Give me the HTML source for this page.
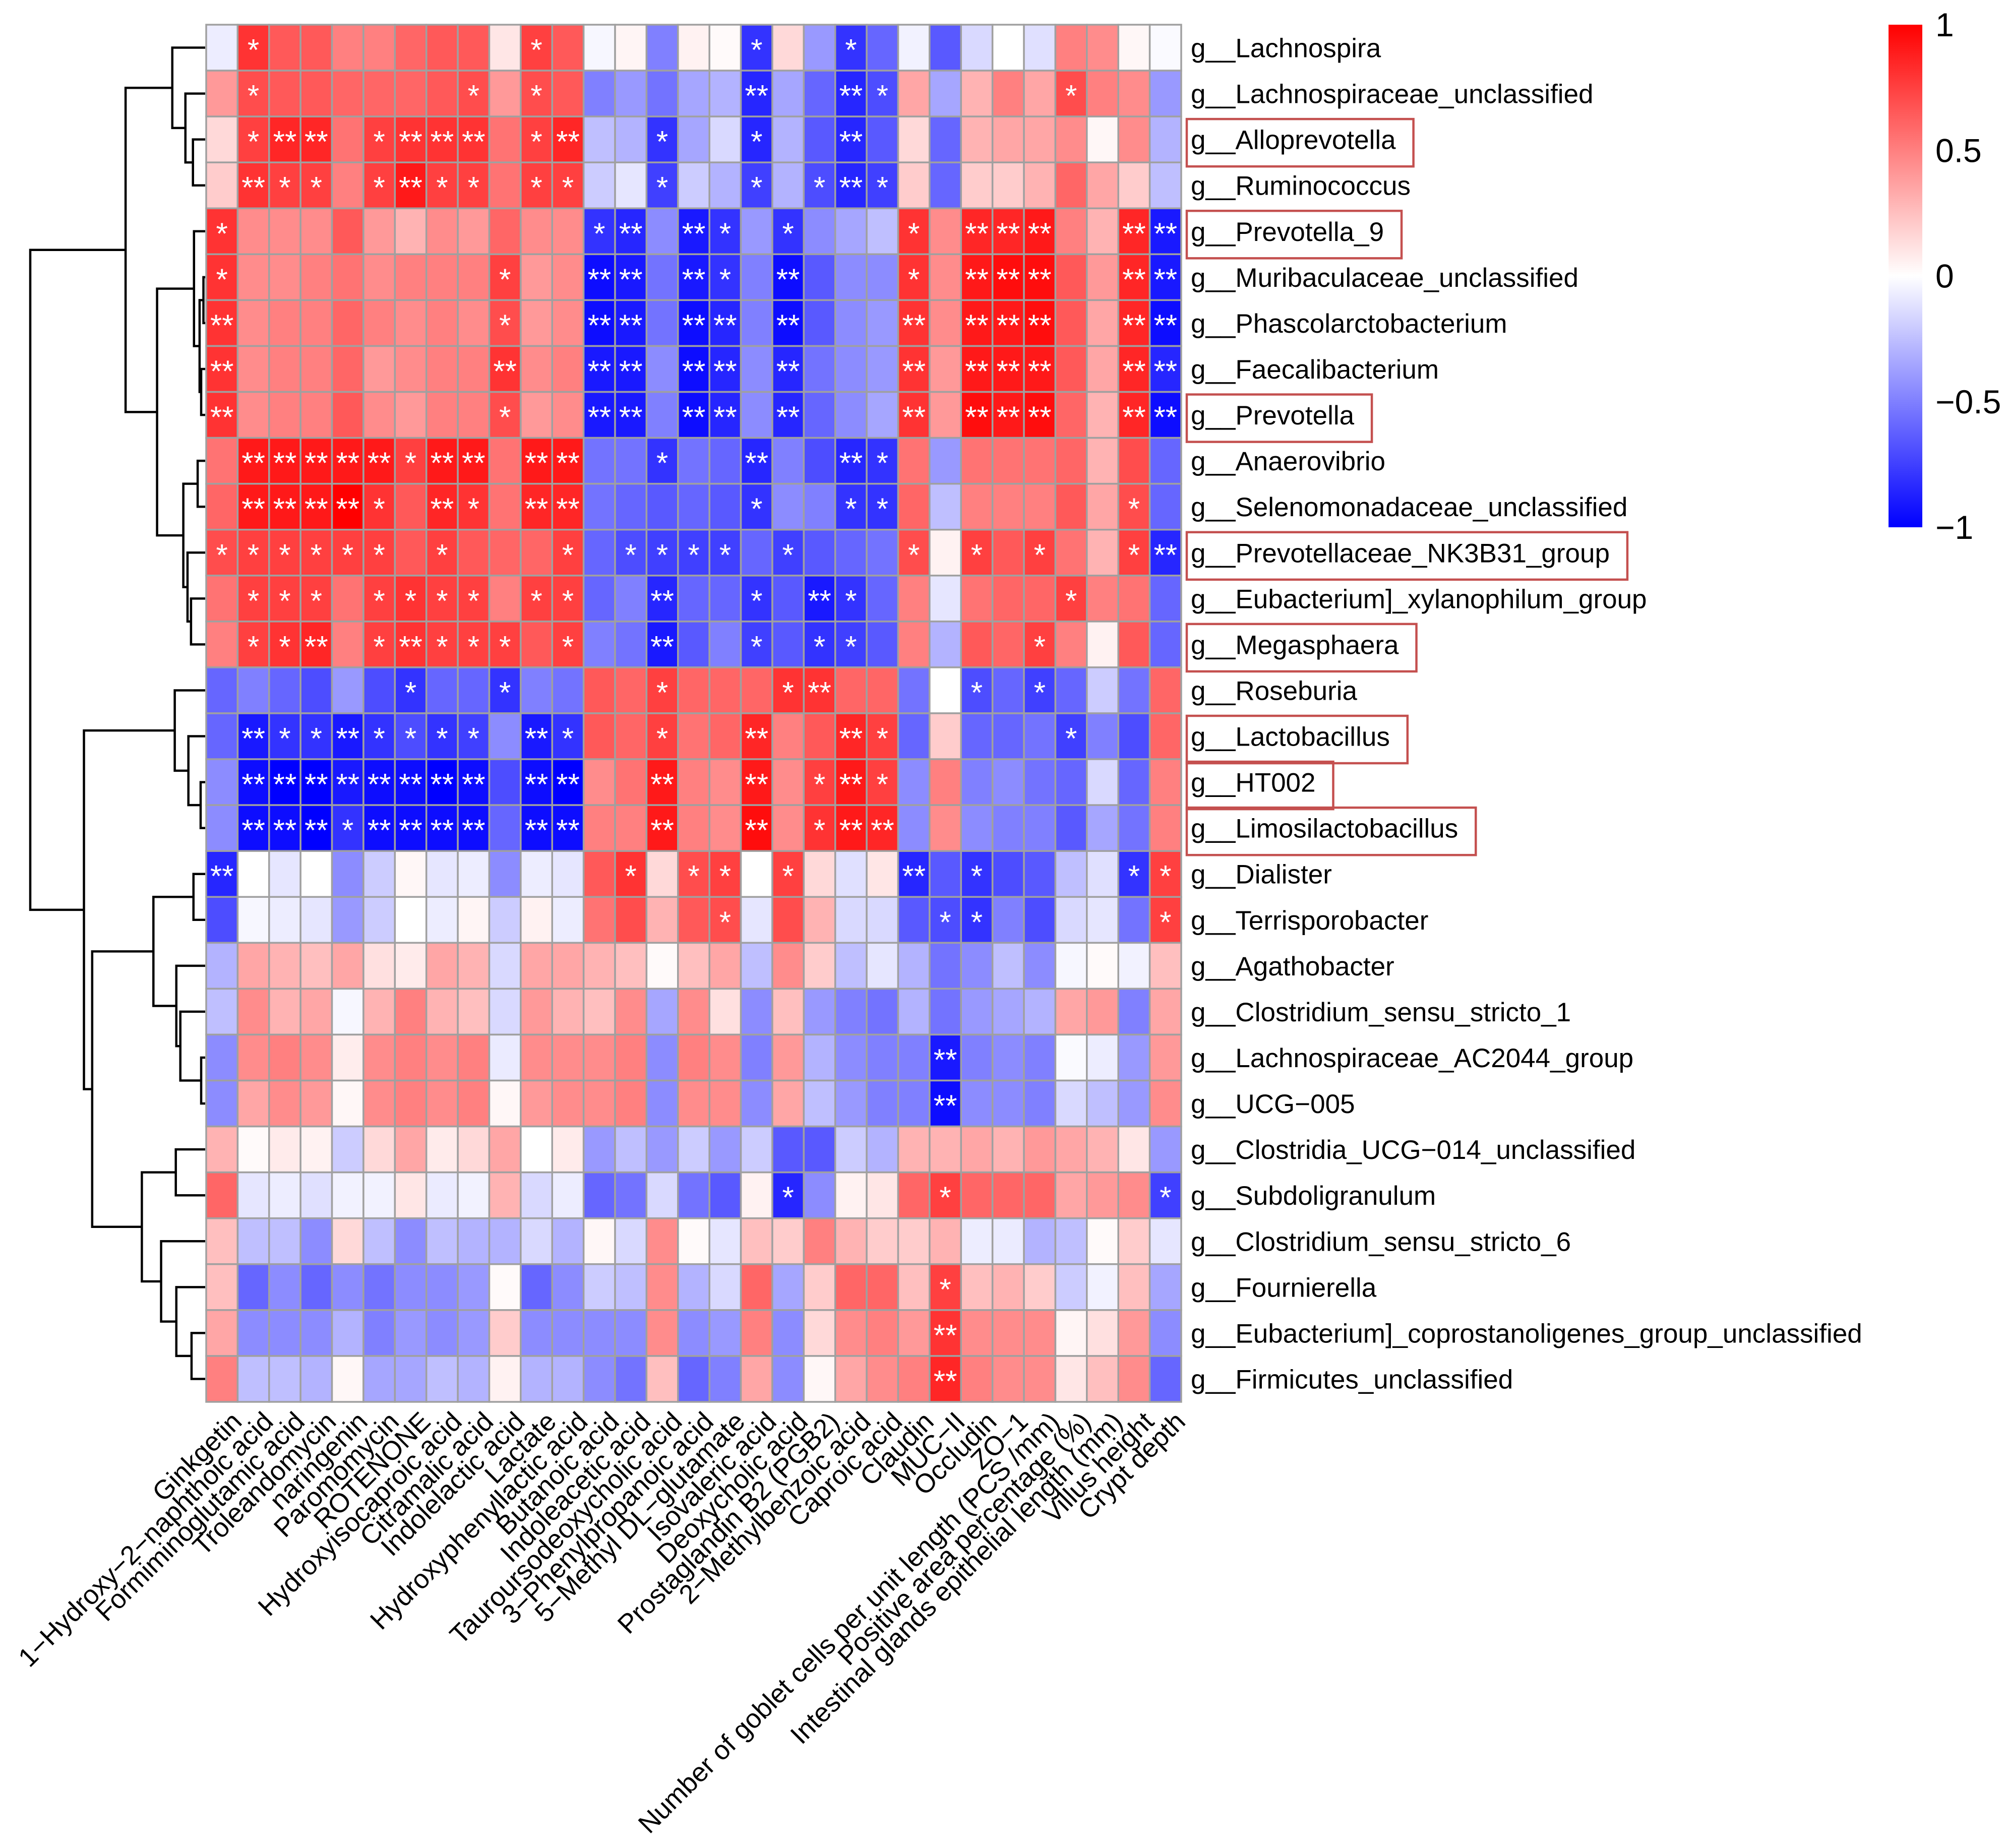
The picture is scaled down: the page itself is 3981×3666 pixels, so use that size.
<!DOCTYPE html>
<html><head><meta charset="utf-8"><style>
html,body{margin:0;padding:0;background:#fff;}
svg{display:block;font-family:"Liberation Sans",Arial,sans-serif;}
</style></head><body>
<svg id="chart" xmlns="http://www.w3.org/2000/svg" width="3981" height="3666" viewBox="0 0 3981 3666">
<rect x="0" y="0" width="3981" height="3666" fill="#fff"/>
<g id="dendro"></g>
<g id="cells"></g>
<g id="stars"></g>
<g id="rowlabels"></g>
<g id="collabels"></g>
<g id="legend"></g>
</svg>
<script>
const rowNames = ["g__Lachnospira","g__Lachnospiraceae_unclassified","g__Alloprevotella","g__Ruminococcus","g__Prevotella_9","g__Muribaculaceae_unclassified","g__Phascolarctobacterium","g__Faecalibacterium","g__Prevotella","g__Anaerovibrio","g__Selenomonadaceae_unclassified","g__Prevotellaceae_NK3B31_group","g__Eubacterium]_xylanophilum_group","g__Megasphaera","g__Roseburia","g__Lactobacillus","g__HT002","g__Limosilactobacillus","g__Dialister","g__Terrisporobacter","g__Agathobacter","g__Clostridium_sensu_stricto_1","g__Lachnospiraceae_AC2044_group","g__UCG\u2212005","g__Clostridia_UCG\u2212014_unclassified","g__Subdoligranulum","g__Clostridium_sensu_stricto_6","g__Fournierella","g__Eubacterium]_coprostanoligenes_group_unclassified","g__Firmicutes_unclassified"];
const colNames = ["Ginkgetin","1\u2212Hydroxy\u22122\u2212naphthoic acid","Formiminoglutamic acid","Troleandomycin","naringenin","Paromomycin","ROTENONE","Hydroxyisocaproic acid","Citramalic acid","Indolelactic acid","Lactate","Hydroxyphenyllactic acid","Butanoic acid","Indoleacetic acid","Tauroursodeoxycholic acid","3\u2212Phenylpropanoic acid","5\u2212Methyl DL\u2212glutamate","Isovaleric acid","Deoxycholic acid","Prostaglandin B2 (PGB2)","2\u2212Methylbenzoic acid","Caproic acid","Claudin","MUC\u2212II","Occludin","ZO\u22121","Number of goblet cells per unit length (PCS /mm)","Positive area percentage (%)","Intestinal glands epithelial length (mm)","Villus height","Crypt depth"];
const boxedRows = [2,4,8,11,13,15,16,17];
const values = [
[-0.07,0.8,0.65,0.65,0.5,0.5,0.6,0.65,0.65,0.1,0.75,0.65,-0.03,0.04,-0.5,0.05,0.02,-0.8,0.15,-0.4,-0.8,-0.6,-0.05,-0.65,-0.15,0,-0.12,0.5,0.45,0.03,-0.02],
[0.4,0.7,0.65,0.65,0.6,0.6,0.6,0.65,0.7,0.4,0.7,0.65,-0.5,-0.4,-0.55,-0.35,-0.3,-0.85,-0.35,-0.6,-0.85,-0.7,0.35,-0.35,0.3,0.5,0.35,0.7,0.5,0.45,-0.4],
[0.15,0.75,0.85,0.85,0.55,0.75,0.8,0.8,0.8,0.55,0.75,0.85,-0.25,-0.3,-0.8,-0.35,-0.15,-0.85,-0.3,-0.65,-0.85,-0.65,0.15,-0.6,0.3,0.35,0.35,0.45,0.03,0.45,-0.3],
[0.2,0.8,0.75,0.75,0.5,0.75,0.9,0.75,0.75,0.55,0.75,0.75,-0.2,-0.1,-0.75,-0.2,-0.3,-0.75,-0.3,-0.7,-0.85,-0.75,0.2,-0.6,0.2,0.2,0.3,0.6,0.35,0.2,-0.25],
[0.8,0.45,0.45,0.45,0.65,0.4,0.3,0.45,0.4,0.6,0.45,0.45,-0.8,-0.85,-0.45,-0.9,-0.8,-0.4,-0.8,-0.45,-0.35,-0.25,0.8,0.45,0.85,0.85,0.9,0.5,0.3,0.85,-0.9],
[0.8,0.45,0.45,0.5,0.55,0.45,0.5,0.5,0.5,0.75,0.4,0.45,-0.95,-0.9,-0.55,-0.9,-0.8,-0.5,-0.95,-0.65,-0.45,-0.45,0.8,0.45,0.9,0.95,0.95,0.65,0.4,0.85,-0.9],
[0.8,0.45,0.5,0.5,0.6,0.5,0.45,0.5,0.45,0.7,0.4,0.45,-0.95,-0.9,-0.55,-0.95,-0.85,-0.5,-0.95,-0.65,-0.45,-0.4,0.8,0.45,0.9,0.9,0.95,0.65,0.35,0.85,-0.95],
[0.8,0.45,0.5,0.5,0.6,0.4,0.45,0.5,0.5,0.8,0.45,0.5,-0.9,-0.9,-0.45,-0.95,-0.85,-0.45,-0.85,-0.55,-0.45,-0.4,0.8,0.4,0.9,0.9,0.9,0.65,0.35,0.85,-0.85],
[0.8,0.45,0.5,0.5,0.65,0.45,0.4,0.5,0.5,0.7,0.4,0.45,-0.9,-0.9,-0.5,-0.95,-0.85,-0.45,-0.85,-0.6,-0.45,-0.35,0.8,0.4,0.95,0.9,0.95,0.6,0.3,0.85,-0.95],
[0.55,0.9,0.9,0.9,0.9,0.9,0.75,0.9,0.9,0.55,0.9,0.9,-0.55,-0.55,-0.8,-0.55,-0.6,-0.85,-0.5,-0.7,-0.85,-0.8,0.55,-0.4,0.55,0.55,0.55,0.6,0.3,0.7,-0.6],
[0.6,0.9,0.9,0.9,1.0,0.8,0.65,0.85,0.8,0.55,0.85,0.85,-0.55,-0.6,-0.65,-0.6,-0.65,-0.8,-0.45,-0.5,-0.8,-0.8,0.6,-0.25,0.5,0.5,0.5,0.65,0.35,0.7,-0.6],
[0.7,0.75,0.75,0.75,0.75,0.75,0.65,0.75,0.65,0.6,0.6,0.75,-0.6,-0.7,-0.75,-0.75,-0.75,-0.6,-0.75,-0.65,-0.6,-0.55,0.7,0.05,0.75,0.65,0.75,0.55,0.3,0.75,-0.85],
[0.55,0.75,0.75,0.75,0.55,0.75,0.8,0.75,0.75,0.5,0.75,0.75,-0.6,-0.5,-0.85,-0.6,-0.6,-0.8,-0.65,-0.9,-0.8,-0.6,0.5,-0.1,0.55,0.6,0.6,0.75,0.5,0.55,-0.6],
[0.5,0.75,0.8,0.85,0.5,0.75,0.8,0.75,0.75,0.75,0.65,0.75,-0.5,-0.55,-0.9,-0.65,-0.5,-0.75,-0.65,-0.8,-0.75,-0.65,0.5,-0.3,0.65,0.6,0.75,0.5,0.05,0.65,-0.6],
[-0.6,-0.5,-0.6,-0.7,-0.4,-0.7,-0.8,-0.6,-0.6,-0.8,-0.5,-0.55,0.65,0.6,0.75,0.6,0.6,0.6,0.8,0.8,0.6,0.6,-0.55,0,-0.7,-0.6,-0.75,-0.6,-0.2,-0.55,0.6],
[-0.6,-0.9,-0.8,-0.8,-0.9,-0.8,-0.7,-0.8,-0.75,-0.45,-0.9,-0.8,0.65,0.6,0.75,0.55,0.6,0.85,0.5,0.65,0.85,0.75,-0.6,0.2,-0.6,-0.6,-0.55,-0.75,-0.5,-0.7,0.6],
[-0.45,-0.95,-1,-1,-0.9,-0.95,-0.95,-1,-0.95,-0.7,-0.95,-1,0.45,0.55,0.9,0.5,0.45,0.9,0.45,0.75,0.9,0.75,-0.45,0.5,-0.5,-0.45,-0.55,-0.6,-0.15,-0.6,0.5],
[-0.45,-0.95,-0.95,-1,-0.8,-0.95,-0.95,-0.95,-0.95,-0.6,-0.95,-0.95,0.5,0.5,0.9,0.5,0.45,0.95,0.45,0.8,0.9,0.85,-0.45,0.45,-0.45,-0.5,-0.5,-0.65,-0.35,-0.55,0.5],
[-0.85,0,-0.1,0,-0.45,-0.2,0.03,-0.1,-0.07,-0.45,-0.07,-0.1,0.65,0.8,0.15,0.7,0.75,0,0.75,0.15,-0.12,0.1,-0.85,-0.65,-0.8,-0.7,-0.65,-0.25,-0.12,-0.8,0.75],
[-0.7,-0.03,-0.07,-0.1,-0.4,-0.2,0,-0.07,0.04,-0.2,0.05,-0.07,0.55,0.7,0.3,0.65,0.7,-0.1,0.7,0.3,-0.15,-0.15,-0.65,-0.7,-0.8,-0.5,-0.7,-0.15,-0.1,-0.55,0.75],
[-0.3,0.35,0.3,0.25,0.35,0.12,0.08,0.35,0.3,-0.15,0.35,0.35,0.3,0.25,0.02,0.25,0.35,-0.25,0.45,0.2,-0.25,-0.1,-0.3,-0.55,-0.45,-0.25,-0.45,-0.03,0.02,-0.05,0.25],
[-0.25,0.45,0.3,0.35,-0.03,0.3,0.5,0.3,0.25,-0.15,0.4,0.3,0.25,0.45,-0.35,0.45,0.12,-0.45,0.25,-0.4,-0.5,-0.55,-0.3,-0.55,-0.4,-0.35,-0.3,0.35,0.4,-0.5,0.35],
[-0.45,0.45,0.5,0.45,0.07,0.45,0.5,0.45,0.5,-0.08,0.45,0.45,0.45,0.5,-0.45,0.5,0.45,-0.5,0.4,-0.3,-0.45,-0.5,-0.5,-0.9,-0.5,-0.45,-0.5,-0.02,-0.07,-0.4,0.4],
[-0.45,0.35,0.45,0.4,0.03,0.45,0.5,0.45,0.5,0.03,0.4,0.45,0.45,0.5,-0.45,0.45,0.45,-0.45,0.35,-0.25,-0.4,-0.5,-0.5,-0.95,-0.45,-0.45,-0.5,-0.15,-0.25,-0.4,0.45],
[0.3,0.02,0.08,0.05,-0.2,0.15,0.35,0.08,0.15,0.35,0,0.08,-0.4,-0.25,-0.4,-0.2,-0.4,-0.2,-0.65,-0.65,-0.2,-0.3,0.3,0.3,0.35,0.3,0.4,0.35,0.3,0.1,-0.4],
[0.6,-0.1,-0.07,-0.12,-0.05,-0.05,0.1,-0.08,-0.05,0.3,-0.15,-0.07,-0.6,-0.55,-0.15,-0.55,-0.65,0.05,-0.85,-0.45,0.05,0.1,0.6,0.75,0.6,0.6,0.6,0.35,0.4,0.45,-0.75],
[0.25,-0.25,-0.25,-0.45,0.15,-0.25,-0.45,-0.25,-0.3,-0.3,-0.15,-0.3,0.03,-0.15,0.45,0.02,-0.1,0.25,0.2,0.5,0.3,0.2,0.2,0.3,-0.07,-0.08,-0.3,-0.25,0.02,0.2,-0.1],
[0.25,-0.6,-0.45,-0.6,-0.45,-0.55,-0.45,-0.45,-0.4,0.02,-0.6,-0.45,-0.2,-0.25,0.45,-0.3,-0.15,0.6,-0.35,0.2,0.6,0.6,0.25,0.75,0.25,0.3,0.2,-0.2,-0.05,0.25,-0.35],
[0.35,-0.45,-0.45,-0.45,-0.3,-0.5,-0.4,-0.45,-0.4,0.2,-0.45,-0.45,-0.45,-0.45,0.45,-0.45,-0.4,0.5,-0.45,0.15,0.45,0.5,0.4,0.8,0.45,0.45,0.45,0.04,0.12,0.4,-0.45],
[0.5,-0.25,-0.25,-0.3,0.03,-0.35,-0.35,-0.25,-0.3,0.05,-0.3,-0.3,-0.45,-0.55,0.25,-0.6,-0.5,0.35,-0.45,0.03,0.35,0.45,0.5,0.85,0.5,0.45,0.45,0.1,0.25,0.45,-0.6]
];
const sigMarks = [
"1:1 10:1 17:1 20:1",
"1:1 8:1 10:1 17:2 20:2 21:1 27:1",
"1:1 2:2 3:2 5:1 6:2 7:2 8:2 10:1 11:2 14:1 17:1 20:2",
"1:2 2:1 3:1 5:1 6:2 7:1 8:1 10:1 11:1 14:1 17:1 19:1 20:2 21:1",
"0:1 12:1 13:2 15:2 16:1 18:1 22:1 24:2 25:2 26:2 29:2 30:2",
"0:1 9:1 12:2 13:2 15:2 16:1 18:2 22:1 24:2 25:2 26:2 29:2 30:2",
"0:2 9:1 12:2 13:2 15:2 16:2 18:2 22:2 24:2 25:2 26:2 29:2 30:2",
"0:2 9:2 12:2 13:2 15:2 16:2 18:2 22:2 24:2 25:2 26:2 29:2 30:2",
"0:2 9:1 12:2 13:2 15:2 16:2 18:2 22:2 24:2 25:2 26:2 29:2 30:2",
"1:2 2:2 3:2 4:2 5:2 6:1 7:2 8:2 10:2 11:2 14:1 17:2 20:2 21:1",
"1:2 2:2 3:2 4:2 5:1 7:2 8:1 10:2 11:2 17:1 20:1 21:1 29:1",
"0:1 1:1 2:1 3:1 4:1 5:1 7:1 11:1 13:1 14:1 15:1 16:1 18:1 22:1 24:1 26:1 29:1 30:2",
"1:1 2:1 3:1 5:1 6:1 7:1 8:1 10:1 11:1 14:2 17:1 19:2 20:1 27:1",
"1:1 2:1 3:2 5:1 6:2 7:1 8:1 9:1 11:1 14:2 17:1 19:1 20:1 26:1",
"6:1 9:1 14:1 18:1 19:2 24:1 26:1",
"1:2 2:1 3:1 4:2 5:1 6:1 7:1 8:1 10:2 11:1 14:1 17:2 20:2 21:1 27:1",
"1:2 2:2 3:2 4:2 5:2 6:2 7:2 8:2 10:2 11:2 14:2 17:2 19:1 20:2 21:1",
"1:2 2:2 3:2 4:1 5:2 6:2 7:2 8:2 10:2 11:2 14:2 17:2 19:1 20:2 21:2",
"0:2 13:1 15:1 16:1 18:1 22:2 24:1 29:1 30:1",
"16:1 23:1 24:1 30:1",
"",
"",
"23:2",
"23:2",
"",
"18:1 23:1 30:1",
"",
"23:1",
"23:2",
"23:2"
];
// hclust-style merges: negative = leaf (row index+1), positive = earlier merge (1-based); third = height (root=1)
const mergeLeft  = [-3,-2,-1,-6,-8,4,-5,-13,-12,-10,10,7,3,-17,-16,-15,-19,-23,-22,-21,17,-29,-28,-27,-25,25,21,16,13];
const mergeRight = [-4,1,2,-7,-9,5,6,-14,8,-11,9,11,12,-18,14,15,-20,-24,18,19,20,-30,22,23,-26,24,26,27,28];
const mergeHeight= [0.07,0.113,0.188,0.01,0.023,0.032,0.064,0.081,0.101,0.043,0.125,0.275,0.455,0.026,0.096,0.174,0.067,0.023,0.142,0.165,0.296,0.078,0.165,0.252,0.168,0.362,0.646,0.693,1.0];
const legendTicks = [1,0.5,0,-0.5,-1];
const legendTickLabels = ["1","0.5","0","\u22120.5","\u22121"];

const NS="http://www.w3.org/2000/svg";
const X0=409, X1=2343, Y0=49, Y1=2781;
const nR=rowNames.length, nC=colNames.length;
const cw=(X1-X0)/nC, ch=(Y1-Y0)/nR;
const xCol=c=>X0+c*cw, yRow=r=>Y0+r*ch;
const DR=407, DL=60;
const xH=h=>DR-h*(DR-DL);
function color(v){
  v=Math.max(-1,Math.min(1,v));
  let r,g,b;
  if(v>=0){r=255;g=Math.round(255*(1-v));b=g;}else{b=255;r=Math.round(255*(1+v));g=r;}
  return `rgb(${r},${g},${b})`;
}
function mk(tag,attrs,parent){const e=document.createElementNS(NS,tag);for(const k in attrs)e.setAttribute(k,attrs[k]);parent.appendChild(e);return e;}

const gCells=document.getElementById('cells');
for(let r=0;r<nR;r++)for(let c=0;c<nC;c++){
  const e=mk('rect',{x:xCol(c),y:yRow(r),width:cw,height:ch,fill:color(values[r][c]),stroke:'#a0a0a0','stroke-width':3.5},gCells);
  
  
}
const gStars=document.getElementById('stars');
sigMarks.forEach((s,r)=>{
  if(!s)return;
  s.split(' ').forEach(p=>{
    const [c,n]=p.split(':').map(Number);
    const t=mk('text',{x:xCol(c)+cw/2,y:yRow(r)+ch/2+25,'text-anchor':'middle','font-size':60,fill:'#fff'},gStars);
    t.textContent='*'.repeat(n);
    
    
  });
});
const gRL=document.getElementById('rowlabels');
rowNames.forEach((n,r)=>{
  const t=mk('text',{x:2362,y:yRow(r)+ch/2+19,'font-size':53,fill:'#000'},gRL);
  t.textContent=n;
  
  
  if(boxedRows.includes(r)){
    const w=t.getComputedTextLength();
    const b=mk('rect',{x:2354,y:yRow(r)+5,width:(2362-2354)+w+35,height:ch+3,fill:'none',stroke:'#c4504f','stroke-width':4.5},gRL);
    
    
  }
});
const gCL=document.getElementById('collabels');
colNames.forEach((n,c)=>{
  const ax=xCol(c)+cw/2+30, ay=Y1+30;
  const t=mk('text',{x:ax,y:ay,'text-anchor':'end','dominant-baseline':'central','font-size':53,fill:'#000',transform:`rotate(-45 ${ax} ${ay})`},gCL);
  t.textContent=n;
  
  
});
// dendrogram
const gD=document.getElementById('dendro');
const nodeY=[], nodeX=[];
function childPos(id){ if(id<0){return [DR,yRow(-id-1)+ch/2];} return [nodeX[id-1],nodeY[id-1]]; }
for(let k=0;k<mergeHeight.length;k++){
  const [lx,ly]=childPos(mergeLeft[k]), [rx,ry]=childPos(mergeRight[k]);
  const x=xH(mergeHeight[k]);
  nodeX.push(x); nodeY.push((ly+ry)/2);
  const p=mk('path',{d:`M${lx},${ly}H${x}V${ry}H${rx}`,fill:'none',stroke:'#000','stroke-width':4.5},gD);
  
  
}
// legend
const gL=document.getElementById('legend');
const LX=3746, LW=67, LT=49, LB=1046;
const yL=v=>LT+(1-v)/2*(LB-LT);
const defs=mk('defs',{},gL);
const grad=mk('linearGradient',{id:'lg',x1:0,y1:0,x2:0,y2:1},defs);
mk('stop',{offset:'0',['stop-color']:'#ff0000'},grad);
mk('stop',{offset:'0.5',['stop-color']:'#ffffff'},grad);
mk('stop',{offset:'1',['stop-color']:'#0000ff'},grad);
const bar=mk('rect',{x:LX,y:yL(1),width:LW,height:yL(-1)-yL(1),fill:'url(#lg)'},gL);


legendTicks.forEach((v,i)=>{
  const t=mk('text',{x:3839,y:yL(v)+23,'font-size':66,fill:'#000'},gL);
  t.textContent=legendTickLabels[i];
  
  
});
</script>
</body></html>
